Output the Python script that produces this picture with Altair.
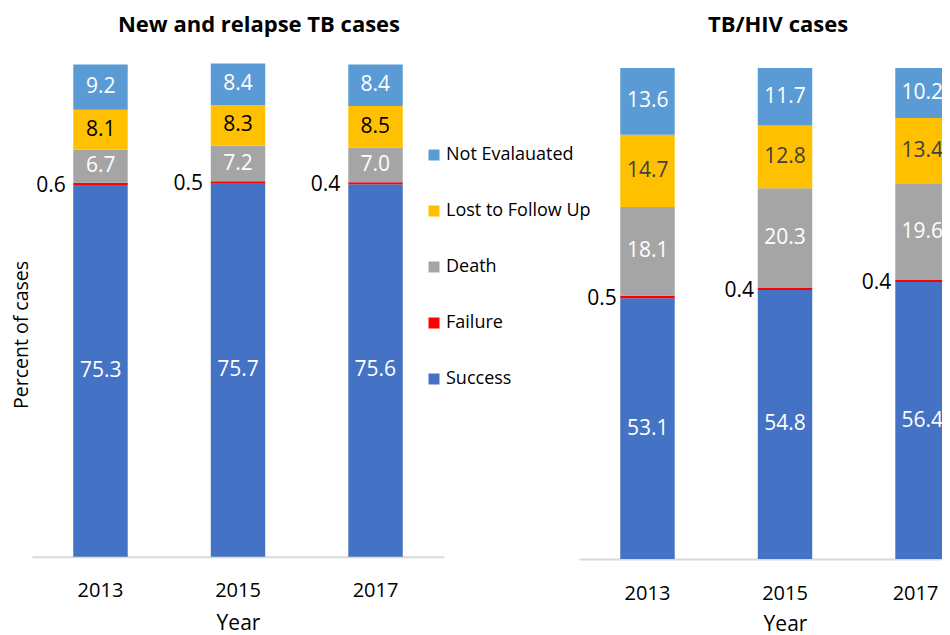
import altair as alt
import pandas as pd

years = ["2013", "2015", "2017"]
categories = ["Success", "Failure", "Death", "Lost to Follow Up", "Not Evalauated"]
legend_order = ["Not Evalauated", "Lost to Follow Up", "Death", "Failure", "Success"]
legend_colors = ["#5B9BD5", "#FFC000", "#A5A5A5", "#FF0000", "#4472C4"]
panel_titles = ["New and relapse TB cases", "TB/HIV cases"]

# New and relapse TB cases (percent)
new_success = [75.3, 75.7, 75.6]
new_failure = [0.6, 0.5, 0.4]
new_death = [6.7, 7.2, 7.0]
new_lost = [8.1, 8.3, 8.5]
new_noteval = [9.2, 8.4, 8.4]

# TB/HIV cases (percent)
hiv_success = [53.1, 54.8, 56.4]
hiv_failure = [0.5, 0.4, 0.4]
hiv_death = [18.1, 20.3, 19.6]
hiv_lost = [14.7, 12.8, 13.4]
hiv_noteval = [13.6, 11.7, 10.2]

FONT = "Open Sans"


def make_df(series):
    rows = []
    for ci, (cat, vals) in enumerate(zip(categories, series)):
        for y, v in zip(years, vals):
            rows.append({"year": y, "cat": cat, "value": v, "ord": ci, "label": f"{v:.1f}"})
    return pd.DataFrame(rows)


df_new = make_df([new_success, new_failure, new_death, new_lost, new_noteval])
df_hiv = make_df([hiv_success, hiv_failure, hiv_death, hiv_lost, hiv_noteval])

legend = alt.Legend(
    title=None, orient="none", legendX=417, legendY=138,
    symbolType="square", symbolSize=121, symbolStrokeWidth=0,
    labelFont=FONT, labelFontSize=18, labelColor="black",
    rowPadding=38, labelOffset=3,
)

VIEW_H = 551


def panel(df, title, xrange, yrange, axis_offset, title_x, year_y, last_shift, dark, gap, show_y):
    base = alt.Chart(df).transform_stack(
        stack="value", groupby=["year"], sort=[alt.SortField("ord", order="ascending")],
        as_=["y0", "y1"],
    ).transform_calculate(mid="(datum.y0 + datum.y1) / 2")

    xscale = alt.Scale(domain=years, range=xrange, paddingInner=0.604, paddingOuter=0.3)
    yscale = alt.Scale(domain=[0, 100], range=yrange, nice=False, zero=True)

    x_bottom = alt.X(
        "year:N", sort=years, scale=xscale,
        axis=alt.Axis(
            orient="bottom", offset=axis_offset,
            title="Year", labelAngle=0, ticks=False, tickSize=0, labelPadding=24,
            labelFont=FONT, labelFontSize=20, labelColor="black",
            labelOffset={"condition": {"test": f"datum.value == '{years[-1]}'", "value": last_shift}, "value": 0},
            titleFont=FONT, titleFontSize=21, titleFontWeight="normal", titleColor="black",
            titleBaseline="alphabetic", titleY=year_y,
            domainColor="#D9D9D9", domainWidth=2, grid=False,
        ),
    )
    x_top = alt.X(
        "year:N", sort=years, scale=xscale,
        axis=alt.Axis(
            orient="top", title=title, labels=False, ticks=False, domain=False, grid=False,
            titleFont=FONT, titleFontSize=22, titleFontWeight="bold", titleColor="black",
            titleBaseline="alphabetic", titleAlign="center", titleX=title_x, titleY=23,
        ),
    )
    x_none = alt.X("year:N", sort=years, scale=xscale, axis=None)

    if show_y:
        yaxis = alt.Axis(
            title="Percent of cases", labels=False, ticks=False, domain=False, grid=False,
            titleFont=FONT, titleFontSize=19.5, titleFontWeight="normal", titleColor="black",
            titleAngle=270, titleBaseline="alphabetic", titleAlign="center",
            titleX=19.7, titleY=326.5,
        )
    else:
        yaxis = None

    bars = base.mark_bar().encode(
        x=x_bottom,
        y=alt.Y("y0:Q", scale=yscale, axis=yaxis),
        y2="y1:Q",
        color=alt.Color("cat:N", scale=alt.Scale(domain=legend_order, range=legend_colors), legend=legend),
    )
    labels = base.transform_filter(alt.datum.cat != "Failure").mark_text(
        font=FONT, fontSize=21, align="center", baseline="middle",
    ).encode(
        x=x_top,
        y=alt.Y("mid:Q", scale=yscale, axis=None),
        text="label:N",
        color=alt.condition(alt.datum.cat == "Lost to Follow Up", alt.value(dark), alt.value("white")),
    )
    fail = base.transform_filter(alt.datum.cat == "Failure").mark_text(
        font=FONT, fontSize=21, align="right", baseline="middle", dx=-(27 + gap), dy=2, color="black",
    ).encode(
        x=x_none,
        y=alt.Y("mid:Q", scale=yscale, axis=None),
        text="label:N",
    )
    return [bars, labels, fail]


left_layers = panel(df_new, panel_titles[0], [24, 436], [548.7, 56], -2.3, 250.5, 73, 0, "black", 8, True)
right_layers = panel(df_hiv, panel_titles[1], [571, 983], [551, 60], 0, 769.5, 71, -7, "#404040", 4, False)

chart = alt.layer(*left_layers, *right_layers).resolve_scale(
    x="independent", y="independent"
).resolve_axis(
    x="independent", y="independent"
).properties(
    width=934, height=VIEW_H,
    autosize=alt.AutoSizeParams(type="none"),
    padding={"left": 0, "top": 0, "right": 0, "bottom": 76},
).configure_view(stroke=None)

chart.save("out.html", embed_options={"renderer": "svg", "actions": False})
